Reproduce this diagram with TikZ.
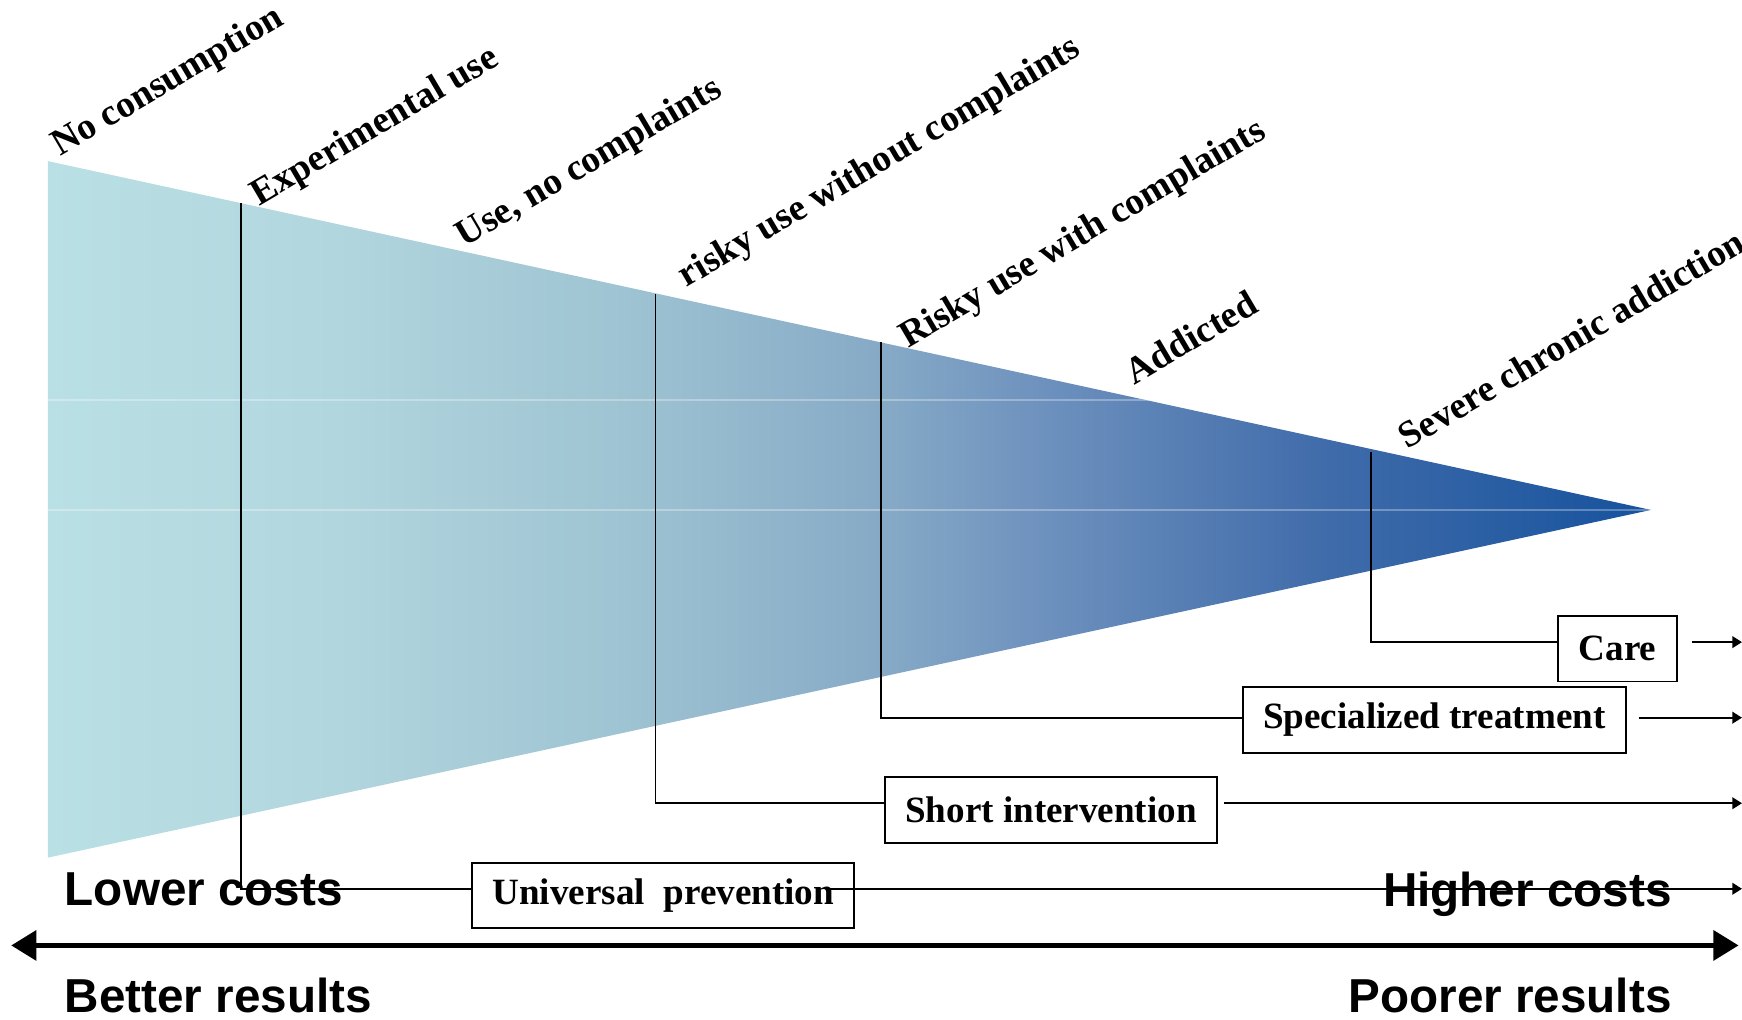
\documentclass[tikz,border=0pt]{standalone}
\usepackage{fontspec}
\setmainfont{Liberation Serif}
\newfontfamily\arialfont{Liberation Sans}
\usetikzlibrary{arrows.meta}
\definecolor{funnelA}{RGB}{185,224,228}
\definecolor{funnelB}{RGB}{178,214,222}
\definecolor{funnelC}{RGB}{158,195,210}
\definecolor{funnelD}{RGB}{134,170,198}
\definecolor{funnelE}{RGB}{112,147,191}
\definecolor{funnelF}{RGB}{63,107,170}
\definecolor{funnelG}{RGB}{31,88,160}
\definecolor{funnelH}{RGB}{22,82,158}
\pgfdeclarehorizontalshading{funnelshade}{100bp}{color(0bp)=(funnelA); color(25bp)=(funnelA); color(34bp)=(funnelB); color(43bp)=(funnelC); color(51bp)=(funnelD); color(55.6bp)=(funnelE); color(65bp)=(funnelF); color(72.8bp)=(funnelG); color(75bp)=(funnelH); color(100bp)=(funnelH)}

\begin{document}
\begin{tikzpicture}[
    x=0.02cm, y=-0.02cm,
    stagelabel/.style={anchor=base west, rotate=30.5, inner sep=0pt, font=\bfseries\fontsize{19.2}{22}\selectfont},
    actbox/.style={draw, line width=1pt, inner xsep=10.5pt, minimum height=33.5pt, font=\bfseries\fontsize{19}{22}\selectfont},
    endlabel/.style={inner sep=0pt, font=\arialfont\bfseries\fontsize{24.4}{28}\selectfont},
    stemline/.style={line width=1pt},
    outarrow/.style={stemline, -{Triangle[length=5pt,width=6pt]}},
    scalearrow/.style={line width=3pt, {Triangle[length=13pt,width=15pt]}-{Triangle[length=13pt,width=15pt]}},
]
    \useasboundingbox (0,0) rectangle (1568,918);

    % Funnel
    \coordinate (funTop) at (43,145);
    \coordinate (funTip) at (1486,459);
    \coordinate (funBot) at (43,772);
    \shade[shading=funnelshade] (funTop) -- (funTip) -- (funBot) -- cycle;
    \begin{scope}
        \clip (funTop) -- (funTip) -- (funBot) -- cycle;
        \draw[white, opacity=.3, line width=.8pt] (43,360) -- (1486,360) (43,459) -- (1486,459);
    \end{scope}

    % Stages
    \node[stagelabel] (noLbl) at (54,141) {No consumption};
    \node[stagelabel] (expLbl) at (233,186) {Experimental use};
    \node[stagelabel] (useLbl) at (418,223) {Use, no complaints};
    \node[stagelabel] (riskyLbl) at (618,259) {risky use without complaints};
    \node[stagelabel] (complLbl) at (817,314) {Risky use with complaints};
    \node[stagelabel] (addLbl) at (1021,347) {Addicted};
    \node[stagelabel] (sevLbl) at (1267,405) {Severe chronic addiction};

    \coordinate (expUse) at (217,183);
    \coordinate (useNo) at (590,265);
    \coordinate (riskyUse) at (793,308);
    \coordinate (sevUse) at (1234,407);

    % Interventions
    \node[actbox] (care) at (1456,584) {Care};
    \node[actbox] (spec) at (1291,648) {Specialized treatment};
    \node[actbox] (short) at (946,729) {Short intervention};
    \node[actbox] (univ) at (597,806) {Universal\ \ prevention};

    \coordinate (careEnd) at (1568,578);
    \coordinate (specEnd) at (1568,646);
    \coordinate (shortEnd) at (1568,723);
    \coordinate (univEnd) at (1568,800);

    \draw[stemline] (sevUse) |- (care.west |- careEnd);
    \draw[stemline] (riskyUse) |- (spec.west |- specEnd);
    \draw[stemline] (useNo) |- (short.west |- shortEnd);
    \draw[stemline] (expUse) |- (univ.west |- univEnd);
    \draw[outarrow, shorten <=7pt] (care.east |- careEnd) -- (careEnd);
    \draw[outarrow, shorten <=6pt] (spec.east |- specEnd) -- (specEnd);
    \draw[outarrow, shorten <=3pt] (short.east |- shortEnd) -- (shortEnd);
    \draw[outarrow, shorten <=-14pt] (univ.east |- univEnd) -- (univEnd);

    % Costs and results
    \node[endlabel, anchor=base west] (lowCost) at (58,815) {Lower costs};
    \node[endlabel, anchor=base east] (highCost) at (1505,816) {Higher costs};
    \node[endlabel, anchor=base west] (better) at (58,911) {Better results};
    \node[endlabel, anchor=base east] (poorer) at (1505,911) {Poorer results};

    \coordinate (leftEnd) at (10,851);
    \coordinate (rightEnd) at (1565,851);
    \draw[scalearrow] (leftEnd) -- (rightEnd);
\end{tikzpicture}
\end{document}
